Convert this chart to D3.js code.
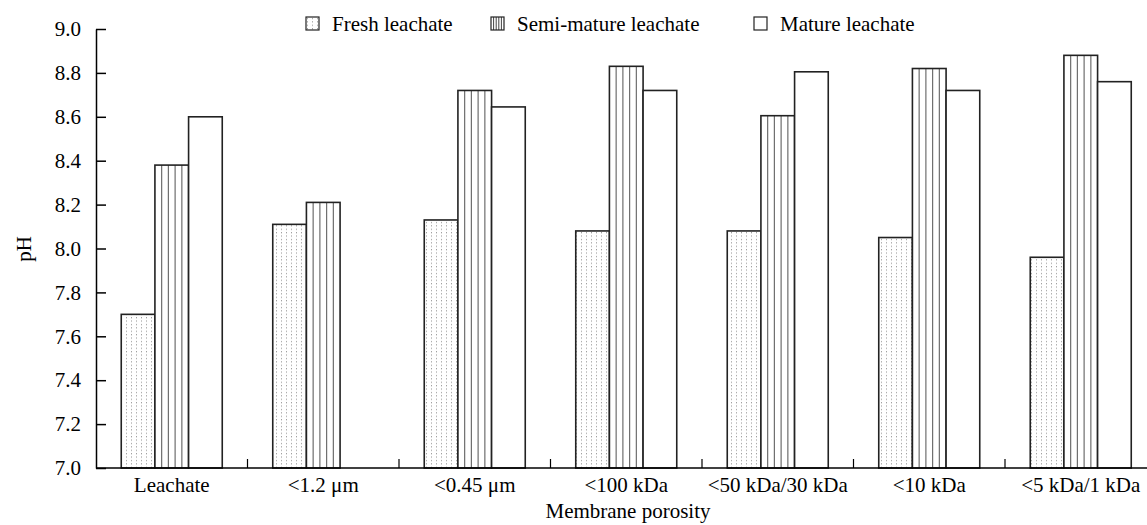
<!DOCTYPE html>
<html>
<head>
<meta charset="utf-8">
<script src="https://cdn.jsdelivr.net/npm/d3@7"></script>
<style>
  body { margin: 0; background: #fff; }
  svg text { font-family: "Liberation Serif", "Times New Roman", serif !important; fill: #000; }
</style>
</head>
<body>
<div id="chart"></div>
<script>
'use strict';

//data
const categories = ['Leachate', '<1.2 \u03bcm', '<0.45 \u03bcm', '<100 kDa', '<50 kDa/30 kDa', '<10 kDa', '<5 kDa/1 kDa'];
const series     = ['Fresh leachate', 'Semi-mature leachate', 'Mature leachate'];
const fresh      = [7.70, 8.11, 8.13, 8.08, 8.08, 8.05, 7.96];
const semiMature = [8.38, 8.21, 8.72, 8.83, 8.605, 8.82, 8.88];
const mature     = [8.60, null, 8.645, 8.72, 8.805, 8.72, 8.76];
const yTicks     = [7.0, 7.2, 7.4, 7.6, 7.8, 8.0, 8.2, 8.4, 8.6, 8.8, 9.0];

const values = [fresh, semiMature, mature];

const W = 1147, H = 525;
const margin = {top: 29, left: 96, bottom: 57};
const groupWidth = 151.5;
const fontSize = 21;
const serif = '"Liberation Serif", "Times New Roman", serif';

const svg = d3.select('#chart').append('svg').attr('width', W).attr('height', H);

//pattern for fresh leachate (fine dots)
const defs = svg.append('defs');
const dots = defs.append('pattern').attr('id', 'dots')
  .attr('patternUnits', 'userSpaceOnUse').attr('width', 5).attr('height', 3.4);
dots.append('rect').attr('x', 1).attr('y', 1).attr('width', 1).attr('height', 1).attr('fill', '#8a8a8a');

//scales
const x = d3.scaleBand().domain(categories)
  .range([margin.left, margin.left + groupWidth * categories.length]);
const xs = d3.scaleBand().domain(series).range([0, x.bandwidth()]).paddingInner(0).paddingOuter(0.75);
const y = d3.scaleLinear().domain([7, 9]).range([H - margin.bottom, margin.top]);
const y0 = y(7);

//bars
series.forEach(function(s, si) {
  const g = svg.append('g').attr('class', 'series s' + si);
  categories.forEach(function(c, ci) {
    const v = values[si][ci];
    if (v === null) return;
    const bx = x(c) + xs(s), bw = xs.bandwidth();
    g.append('rect')
      .attr('x', bx).attr('y', y(v))
      .attr('width', bw).attr('height', y0 - y(v))
      .attr('fill', si === 0 ? 'url(#dots)' : '#fff')
      .attr('stroke', 'none');
    if (si === 1) {
      //vertical hatching
      for (let k = 1; k < 5; k++) {
        g.append('line')
          .attr('x1', bx + k * bw / 5).attr('x2', bx + k * bw / 5)
          .attr('y1', y(v)).attr('y2', y0)
          .attr('stroke', '#6e6e6e').attr('stroke-width', 1.2);
      }
    }
    g.append('rect')
      .attr('x', bx).attr('y', y(v))
      .attr('width', bw).attr('height', y0 - y(v))
      .attr('fill', 'none').attr('stroke', '#222').attr('stroke-width', 1.6);
  });
});

//y axis, ticks pointing inwards
const yAxis = d3.axisLeft(y).tickValues(yTicks).tickFormat(d3.format('.1f'))
  .tickSize(-10).tickSizeOuter(0).tickPadding(15);
const gy = svg.append('g').attr('transform', 'translate(' + margin.left + ',0)').call(yAxis);
gy.attr('font-family', serif).attr('font-size', fontSize);
gy.selectAll('text').style('font-family', serif).style('font-size', fontSize + 'px');
gy.selectAll('line, path').attr('stroke', '#000').attr('stroke-width', 1.5);

//x axis line with small boundary ticks pointing up
svg.append('line')
  .attr('x1', margin.left).attr('x2', W).attr('y1', y0).attr('y2', y0)
  .attr('stroke', '#000').attr('stroke-width', 1.5);
categories.slice(1).forEach(function(c) {
  svg.append('line')
    .attr('x1', x(c)).attr('x2', x(c)).attr('y1', y0).attr('y2', y0 - 9)
    .attr('stroke', '#000').attr('stroke-width', 1.2);
});

//category labels
svg.append('g').selectAll('text').data(categories).join('text')
  .attr('x', function(d) { return x(d) + x.bandwidth() / 2; })
  .attr('y', y0 + 24)
  .attr('text-anchor', 'middle')
  .style('font-family', serif)
  .style('font-size', fontSize + 'px')
  .text(function(d) { return d; });

//axis titles
svg.append('text').attr('x', 628).attr('y', 518).attr('text-anchor', 'middle')
  .style('font-family', serif).style('font-size', fontSize + 'px').text('Membrane porosity');
svg.append('text').attr('transform', 'translate(31,249) rotate(-90)').attr('text-anchor', 'middle')
  .style('font-family', serif).style('font-size', fontSize + 'px').text('pH');

//legend
const legendX = [306, 491, 754];
const legend = svg.append('g').selectAll('g').data(series).join('g')
  .attr('transform', function(d, i) { return 'translate(' + legendX[i] + ',17)'; });
legend.each(function(d, i) {
  const g = d3.select(this);
  g.append('rect').attr('width', 13).attr('height', 13)
    .attr('fill', i === 0 ? 'url(#dots)' : '#fff');
  if (i === 1) {
    for (let k = 1; k < 5; k++) {
      g.append('line').attr('x1', k * 13 / 5).attr('x2', k * 13 / 5).attr('y1', 0).attr('y2', 13)
        .attr('stroke', '#444').attr('stroke-width', 1);
    }
  }
  g.append('rect').attr('width', 13).attr('height', 13)
    .attr('fill', 'none').attr('stroke', '#222').attr('stroke-width', 1.2);
  g.append('text').attr('x', 26).attr('y', 14)
    .style('font-family', serif).style('font-size', fontSize + 'px').text(d);
});
</script>
</body>
</html>
